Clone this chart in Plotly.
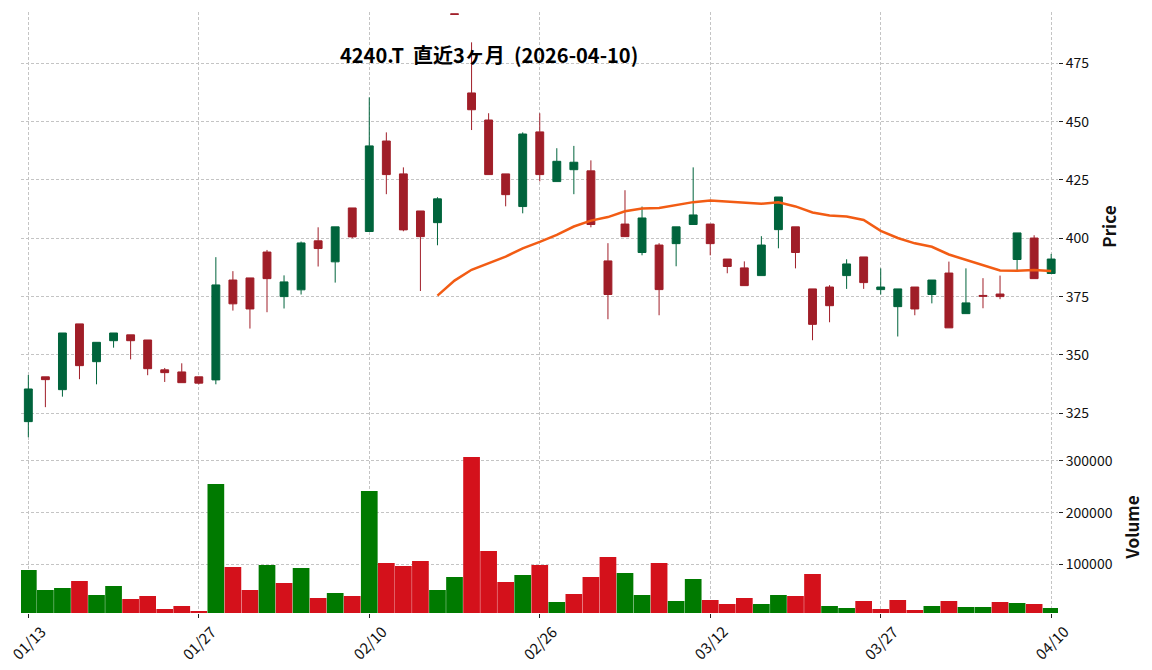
import plotly.graph_objects as go
import pandas as pd

# ---------------- data ----------------
dates = ["01/13", "01/14", "01/15", "01/16", "01/19", "01/20", "01/21", "01/22", "01/23", "01/26",
         "01/27", "01/28", "01/29", "01/30", "02/02", "02/03", "02/04", "02/05", "02/06", "02/09",
         "02/10", "02/12", "02/13", "02/16", "02/17", "02/18", "02/19", "02/20", "02/24", "02/25",
         "02/26", "02/27", "03/02", "03/03", "03/04", "03/05", "03/06", "03/09", "03/10", "03/11",
         "03/12", "03/13", "03/16", "03/17", "03/18", "03/19", "03/23", "03/24", "03/25", "03/26",
         "03/27", "03/30", "03/31", "04/01", "04/02", "04/03", "04/06", "04/07", "04/08", "04/09",
         "04/10"]

opens = [321.4, 340.6, 335.1, 363.3, 347.1, 356.1, 358.6, 356.4, 343.6, 342.7,
         340.6, 339.3, 382.1, 383.0, 394.1, 375.0, 377.9, 398.9, 389.9, 413.0,
         402.9, 441.7, 427.6, 411.7, 406.7, 496.2, 462.3, 450.7, 427.6, 413.6,
         445.6, 424.3, 429.4, 428.9, 390.3, 406.1, 393.9, 397.1, 397.7, 405.9,
         406.1, 391.1, 387.3, 384.0, 403.7, 404.9, 378.3, 379.1, 384.0, 392.0,
         378.0, 370.7, 379.1, 375.9, 385.1, 367.7, 375.5, 376.1, 390.9, 400.1,
         384.9]
highs = [341.4, 340.6, 359.4, 363.3, 355.4, 359.4, 358.6, 356.4, 344.4, 346.4,
         340.6, 391.9, 385.9, 383.0, 395.0, 384.1, 398.6, 404.7, 404.9, 413.0,
         460.4, 445.4, 430.4, 411.7, 417.6, 496.2, 484.0, 453.6, 427.6, 445.4,
         453.6, 438.6, 439.6, 433.4, 397.9, 420.6, 413.6, 397.9, 404.9, 430.4,
         406.1, 391.1, 390.1, 400.9, 417.7, 404.9, 378.3, 379.9, 391.0, 392.0,
         387.1, 378.3, 379.1, 382.1, 390.0, 387.1, 382.9, 384.0, 402.3, 401.3,
         393.3]
lows = [314.7, 327.6, 332.1, 339.6, 337.4, 353.1, 348.1, 341.3, 338.4, 338.1,
        337.4, 337.4, 369.0, 361.3, 368.3, 369.9, 375.9, 387.9, 381.0, 400.0,
        402.9, 418.9, 403.0, 377.4, 397.0, 496.0, 446.4, 427.3, 413.7, 410.7,
        424.4, 424.3, 418.9, 404.7, 365.3, 400.7, 392.7, 367.0, 388.0, 405.9,
        392.7, 385.0, 379.7, 384.0, 395.7, 387.1, 356.3, 364.0, 378.3, 378.3,
        375.9, 357.9, 367.0, 372.1, 361.6, 367.7, 370.0, 373.9, 385.7, 382.7,
        384.9]
closes = [335.4, 339.4, 359.4, 345.4, 355.4, 359.4, 356.1, 344.1, 342.4, 338.1,
          337.9, 380.0, 371.9, 369.7, 382.7, 381.3, 398.0, 395.6, 404.9, 400.6,
          439.6, 427.3, 403.6, 400.7, 416.9, 496.0, 455.1, 427.3, 418.7, 444.7,
          427.3, 433.0, 432.6, 405.9, 375.9, 400.7, 408.7, 378.0, 404.9, 410.0,
          397.7, 387.9, 379.7, 397.1, 417.7, 393.9, 363.1, 371.1, 389.0, 381.0,
          379.1, 378.3, 369.7, 382.1, 361.6, 372.3, 375.2, 375.0, 402.3, 382.7,
          391.1]
volumes = [89000, 50300, 54200, 67700, 40600, 58100, 32900, 38700, 13500, 19400,
           9700, 255500, 94800, 50300, 98700, 63900, 92900, 34800, 44500, 38700,
           241900, 102600, 96800, 106500, 50300, 75500, 307700, 125800, 65800, 79400,
           98700, 27100, 42600, 75500, 114200, 83200, 40600, 102600, 29000, 71600,
           31000, 23200, 34800, 23200, 40600, 38700, 81300, 19400, 15500, 29000,
           13500, 31000, 11600, 19400, 29000, 17400, 17400, 27100, 25200, 23200,
           15500]

title_text = "4240.T\u00a0\u00a0直近3ヶ月\u00a0\u00a0(2026-04-10)"
ma_window = 25
tick_step = 10
price_ticks = [325, 350, 375, 400, 425, 450, 475]
volume_ticks = [100000, 200000, 300000]

# ---------------- styling ----------------
FONT = "Noto Sans CJK JP"
UP_C = "#00643c"
DN_C = "#a01e28"
VOL_UP = "#007a00"
VOL_DN = "#d4111b"
MA_C = "#f25c14"
GRID_C = "#c4c4c4"

idx = list(range(len(dates)))
ma = pd.Series(closes).rolling(ma_window).mean()
vol_colors = [VOL_UP if (i == 0 or closes[i] > closes[i - 1]) else VOL_DN for i in idx]
tick_idx = idx[::tick_step]
tick_lbl = [dates[i] for i in tick_idx]

fig = go.Figure()
fig.add_trace(go.Candlestick(
    x=idx, open=opens, high=highs, low=lows, close=closes,
    increasing=dict(line=dict(color=UP_C, width=1), fillcolor=UP_C),
    decreasing=dict(line=dict(color=DN_C, width=1), fillcolor=DN_C),
    xaxis="x", yaxis="y", showlegend=False, hoverinfo="skip"))
fig.add_trace(go.Scatter(
    x=idx, y=ma, mode="lines", line=dict(color=MA_C, width=2.5),
    xaxis="x", yaxis="y", showlegend=False, hoverinfo="skip"))
fig.add_trace(go.Bar(
    x=idx, y=volumes, marker=dict(color=vol_colors, line=dict(width=0)), width=0.98,
    xaxis="x2", yaxis="y2", showlegend=False, hoverinfo="skip"))

split = 0.2862
xr = [-0.43, 60.4]
common_x = dict(range=xr, tickmode="array", tickvals=tick_idx, showgrid=True,
                gridcolor=GRID_C, griddash="3px,2px", gridwidth=0.8, zeroline=False,
                showline=False, fixedrange=True)
common_y = dict(side="right", showgrid=True, gridcolor=GRID_C, griddash="3px,2px", gridwidth=0.8,
                zeroline=False, showline=False, ticks="outside", ticklen=4, tickwidth=1,
                tickcolor="#222222", tickfont=dict(family=FONT, size=14, color="#111111"))

fig.update_layout(
    width=1152, height=670,
    margin=dict(l=21, r=91, t=12, b=57),
    paper_bgcolor="white", plot_bgcolor="white",
    boxgap=0.34,
    font=dict(family=FONT, color="#111111"),
    xaxis=dict(anchor="y", domain=[0, 1], showticklabels=False, ticks="",
               rangeslider=dict(visible=False), **common_x),
    xaxis2=dict(anchor="y2", domain=[0, 1], showticklabels=False, ticks="outside",
                ticklen=4, tickcolor="#222222", matches="x", **common_x),
    yaxis=dict(domain=[split, 1], range=[313.1, 497.0], tickvals=price_ticks,
               title=dict(text="Price", font=dict(family=FONT, size=17, weight="bold")),
               **common_y),
    yaxis2=dict(domain=[0, split], range=[5800, 338700], tickvals=volume_ticks, tickformat="d",
                title=dict(text="Volume", font=dict(family=FONT, size=17, weight="bold")),
                **common_y),
)

annotations = [dict(text=title_text, x=0.4514, y=0.9285, xref="paper", yref="paper",
                    xanchor="center", yanchor="middle", showarrow=False,
                    font=dict(family=FONT, size=20, weight="bold", color="#000000"))]
for t, lbl in zip(tick_idx, tick_lbl):
    annotations.append(dict(text=lbl, x=t, y=-0.049, xref="x2", yref="paper",
                            xanchor="center", yanchor="middle", textangle=-45, showarrow=False,
                            font=dict(family=FONT, size=15, color="#111111")))
fig.update_layout(annotations=annotations)

fig.write_html("out.html", config={"displayModeBar": False},
               post_script="document.body.style.margin='0';")
